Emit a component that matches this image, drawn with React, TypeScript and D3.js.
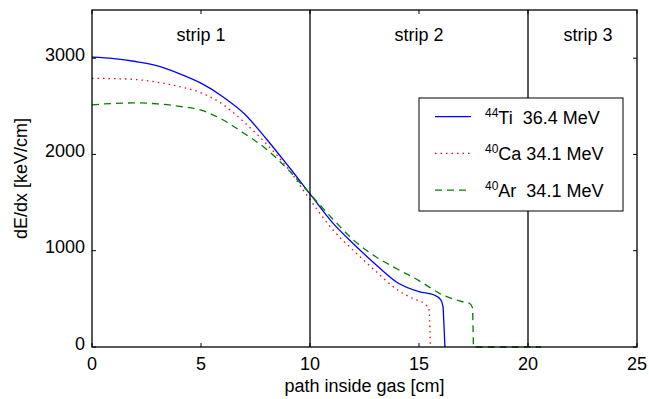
import * as d3 from 'd3'

// dE/dx curves, x in cm, y in keV/cm
const tiX = [0, 1, 2, 3, 4, 5, 6, 7, 8, 9, 10, 11, 12, 13, 14, 15, 15.7, 16.0, 16.1, 16.15, 16.19]
const tiY = [3010, 2995, 2965, 2920, 2840, 2740, 2600, 2420, 2160, 1880, 1590, 1300, 1070, 860, 670, 575, 540, 490, 420, 200, 0]

const caX = [0, 1, 2, 3, 4, 5, 6, 7, 8, 9, 10, 11, 12, 13, 14, 14.7, 15.3, 15.45, 15.5, 15.52]
const caY = [2790, 2787, 2778, 2750, 2705, 2640, 2520, 2330, 2110, 1850, 1530, 1230, 1000, 790, 595, 505, 440, 400, 200, 0]

const arX = [0, 1, 2, 3, 4, 5, 6, 7, 8, 9, 10, 11, 12, 13, 14, 15, 16, 17, 17.3, 17.45, 17.48, 17.5, 20.6]
const arY = [2515, 2530, 2535, 2525, 2500, 2460, 2360, 2215, 2055, 1840, 1590, 1340, 1110, 940, 810, 690, 550, 470, 455, 410, 200, 0, 0]

const xTicks = [0, 5, 10, 15, 20, 25]
const yTicks = [0, 1000, 2000, 3000]
const stripEdges = [10, 20]
const stripLabels = ['strip 1', 'strip 2', 'strip 3']
const stripCenters = [5, 15, 22.75]

const series = [
  { mass: '44', name: 'Ti', energy: '36.4 MeV', pad: '  ', xs: tiX, ys: tiY, color: '#0000ff', dash: 'none' },
  { mass: '40', name: 'Ca', energy: '34.1 MeV', pad: ' ', xs: caX, ys: caY, color: '#ff0000', dash: '1.5,4' },
  { mass: '40', name: 'Ar', energy: '34.1 MeV', pad: '  ', xs: arX, ys: arY, color: '#008000', dash: '7,5' },
]

const W = 649
const H = 399
const margin = { top: 10, right: 12, bottom: 52, left: 92 }
const font = '"Liberation Sans", Arial, sans-serif'

export default function App() {
  const innerW = W - margin.left - margin.right
  const innerH = H - margin.top - margin.bottom

  const x = d3.scaleLinear().domain([0, 25]).range([0, innerW])
  const y = d3.scaleLinear().domain([0, 3500]).range([innerH, 0])

  // monotone keeps the steep drops from overshooting below zero
  const line = d3.line<[number, number]>()
    .x(d => x(d[0]))
    .y(d => y(d[1]))
    .curve(d3.curveMonotoneX)

  const tickLen = 4

  return (
    <svg width={W} height={H} style={{ position: 'absolute', left: 0, top: 0, background: '#fff' }}
      fontFamily={font}>
      <g transform={`translate(${margin.left},${margin.top})`}>
        {/* curves */}
        {series.map(s => (
          <path key={s.name}
            d={line(s.xs.map((v, i) => [v, s.ys[i]] as [number, number])) || ''}
            fill="none" stroke={s.color} strokeWidth={1.3}
            strokeDasharray={s.dash} />
        ))}

        {/* strip boundaries */}
        {stripEdges.map(e => (
          <line key={e} x1={x(e)} x2={x(e)} y1={0} y2={innerH} stroke="#000" strokeWidth={1.3} />
        ))}
        {stripLabels.map((t, i) => (
          <text key={t} x={x(stripCenters[i])} y={31} textAnchor="middle" fontSize={18}>{t}</text>
        ))}

        {/* frame */}
        <rect x={0} y={0} width={innerW} height={innerH} fill="none" stroke="#000" strokeWidth={1.3} />

        {/* x ticks */}
        {xTicks.map(t => (
          <g key={t}>
            <line x1={x(t)} x2={x(t)} y1={innerH} y2={innerH - tickLen} stroke="#000" />
            <line x1={x(t)} x2={x(t)} y1={0} y2={tickLen} stroke="#000" />
            <text x={x(t)} y={innerH + 23} textAnchor="middle" fontSize={18}>{t}</text>
          </g>
        ))}

        {/* y ticks */}
        {yTicks.map(t => (
          <g key={t}>
            <line x1={0} x2={tickLen} y1={y(t)} y2={y(t)} stroke="#000" />
            <line x1={innerW} x2={innerW - tickLen} y1={y(t)} y2={y(t)} stroke="#000" />
            <text x={-7} y={y(t) + 2.5} textAnchor="end" fontSize={18}>{t}</text>
          </g>
        ))}

        {/* axis labels */}
        <text x={innerW / 2} y={innerH + 45} textAnchor="middle" fontSize={18}>path inside gas [cm]</text>
        <text transform={`translate(${27 - margin.left},${innerH / 2}) rotate(-90)`} textAnchor="middle" fontSize={18}>
          dE/dx [keV/cm]
        </text>

        {/* legend */}
        <g transform={`translate(${419 - margin.left},${98 - margin.top})`}>
          <rect x={0} y={0} width={204} height={113} fill="#fff" stroke="#000" strokeWidth={1} />
          {series.map((s, i) => {
            const ly = 18.7 + i * 36.7
            return (
              <g key={s.name}>
                <line x1={16} x2={52} y1={ly} y2={ly} stroke={s.color} strokeWidth={1.3} strokeDasharray={s.dash} />
                <text x={66} y={ly + 7} fontSize={18} style={{ whiteSpace: 'pre' }}>
                  <tspan fontSize={12} dy={-7}>{s.mass}</tspan>
                  <tspan dy={7}>{s.name + s.pad + s.energy}</tspan>
                </text>
              </g>
            )
          })}
        </g>
      </g>
    </svg>
  )
}
